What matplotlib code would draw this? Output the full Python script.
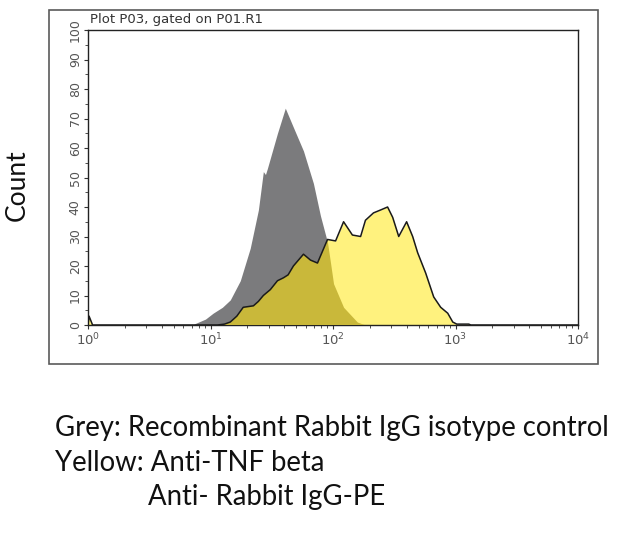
import numpy as np
import matplotlib
matplotlib.use("Agg")
import matplotlib.pyplot as plt
from matplotlib.patches import Rectangle

# ---- data ----
grey_x = [7.2, 7.5, 9.1, 10.5, 12.5, 14.5, 17.5, 21.1, 24.6, 27.0, 28.1, 29.1,
          35.2, 40.8, 47.5, 57.4, 69.2, 79.0, 90.2, 95.5, 101, 122, 158, 184]
grey_y = [0, 0.5, 2, 4, 6, 8.5, 15, 26, 39, 52, 51, 53,
          65, 73.5, 67, 59, 48, 37, 28, 21, 14, 6, 1, 0]

yellow_x = [1.0, 1.02, 1.09, 11.4, 13.0, 14.5, 16.4, 18.5, 22.4, 24.6, 27.0, 30.8,
            35.2, 39.4, 43.0, 47.5, 57.4, 65.5, 74.7, 90.2, 105, 122, 144, 168,
            184, 214, 245, 279, 307, 344, 399, 447, 491, 571, 664, 757, 864,
            950, 1024, 1283, 1334, 10000]
yellow_y = [0, 3, 0, 0, 0.3, 1, 3, 6, 6.5, 8, 10, 12,
            15, 16, 17, 20, 24, 22, 21, 29, 28.5, 35, 30.5, 30,
            35.5, 38, 39, 40, 36.5, 30, 35, 30, 24.5, 17.6, 9.5, 6, 4,
            1, 0.3, 0.3, 0, 0]

y_ticks = list(range(0, 101, 10))
x_ticks = [1, 10, 100, 1000, 10000]
x_tick_labels = [r"$10^{0}$", r"$10^{1}$", r"$10^{2}$", r"$10^{3}$", r"$10^{4}$"]

title_text = "Plot P03, gated on P01.R1"
caption = ["Grey: Recombinant Rabbit IgG isotype control",
           "Yellow: Anti-TNF beta",
           "Anti- Rabbit IgG-PE"]

GREY = "#7b7b7d"
YELLOW = "#fff27e"
OLIVE = "#c9b83a"

W, H = 640, 533
fig = plt.figure(figsize=(6.4, 5.33), dpi=100)

# outer frame
fig.patches.append(Rectangle((49 / W, 1 - 364 / H), (598 - 49) / W, (364 - 10) / H,
                             transform=fig.transFigure, fill=False,
                             edgecolor="#5a5a5a", linewidth=1.2))

ax = fig.add_axes([88 / W, 1 - 325 / H, (578 - 88) / W, (325 - 30) / H])
ax.set_xscale("log")
ax.set_xlim(1, 10000)
ax.set_ylim(0, 100)

ax.fill_between(grey_x, grey_y, 0, color=GREY, linewidth=0, zorder=1)
ypoly = ax.fill_between(yellow_x, yellow_y, 0, color=YELLOW, linewidth=0, zorder=2)
over = ax.fill_between(grey_x, grey_y, 0, color=OLIVE, linewidth=0, zorder=3)
over.set_clip_path(ypoly.get_paths()[0], ax.transData)
ax.plot(yellow_x, yellow_y, color="#1a1a1a", linewidth=1.1, zorder=4)

for s in ax.spines.values():
    s.set_linewidth(1.0)
    s.set_color("#222222")

ax.set_yticks(y_ticks)
ax.set_yticklabels([str(v) for v in y_ticks], rotation=90, va="center",
                   fontsize=9, color="#555555")
ax.set_xticks(x_ticks)
ax.set_xticklabels(x_tick_labels, fontsize=9.5, color="#555555")
ax.tick_params(axis="both", which="major", direction="out", length=3, width=0.8,
               pad=1.5, color="#333333")
ax.tick_params(axis="x", which="minor", direction="out", length=2, width=0.6,
               color="#333333")
ax.yaxis.set_minor_locator(matplotlib.ticker.MultipleLocator(5))
ax.tick_params(axis="y", which="minor", direction="out", length=2, width=0.6,
               color="#333333")

fig.text(90 / W, 1 - 20 / H, title_text, fontsize=9.5, color="#333333",
         ha="left", va="center", family="DejaVu Sans")

fig.text(17 / W, 1 - 185 / H, "Count", rotation=90, fontsize=19,
         ha="center", va="center", family="Lato", color="#111111")

fig.text(55 / W, 1 - 428 / H, caption[0], fontsize=19.8, family="Lato",
         ha="left", va="center", color="#111111")
fig.text(55 / W, 1 - 463 / H, caption[1], fontsize=19.8, family="Lato",
         ha="left", va="center", color="#111111")
fig.text(148 / W, 1 - 497 / H, caption[2], fontsize=19.8, family="Lato",
         ha="left", va="center", color="#111111")

fig.savefig("out.png", dpi=100)
